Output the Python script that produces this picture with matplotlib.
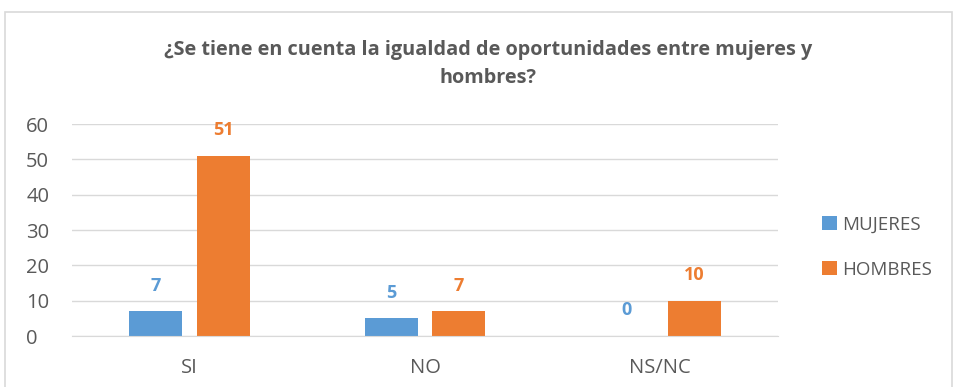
import numpy as np
import matplotlib.pyplot as plt
from matplotlib.patches import Rectangle

categorias = ['SI', 'NO', 'NS/NC']
mujeres = [7, 5, 0]
hombres = [51, 7, 10]

AZUL = '#5B9BD5'
NARANJA = '#ED7D31'
GRIS = '#595959'

plt.rcParams['font.family'] = ['Open Sans', 'DejaVu Sans']

fig = plt.figure(figsize=(9.55, 3.87), dpi=100)
W, H = 955, 387
ax = fig.add_axes([72 / W, 1 - 336 / H, (778 - 72) / W, (336 - 124) / H])

x = np.arange(len(categorias))
ancho = 0.225
b1 = ax.bar(x - 0.144, mujeres, ancho, color=AZUL, label='MUJERES')
b2 = ax.bar(x + 0.144, hombres, ancho, color=NARANJA, label='HOMBRES')

# etiquetas de valor encima de cada barra
for barras, col in ((b1, AZUL), (b2, NARANJA)):
    for r in barras:
        ax.annotate(f'{int(r.get_height())}',
                    (r.get_x() + r.get_width() / 2, r.get_height()),
                    xytext=(0, 12), textcoords='offset points',
                    ha='center', va='bottom', color=col,
                    fontsize=13, fontweight='bold')

ax.set_xlim(-0.5, 2.5)
ax.set_ylim(0, 60)
ax.set_yticks(range(0, 61, 10))
ax.set_xticks(x)
ax.set_xticklabels(categorias)
ax.yaxis.grid(True, color='#D9D9D9', linewidth=1)
ax.set_axisbelow(True)
for s in ('top', 'right', 'left'):
    ax.spines[s].set_visible(False)
ax.spines['bottom'].set_color('#D9D9D9')
ax.tick_params(axis='both', length=0, labelsize=14.5, colors=GRIS)
ax.tick_params(axis='x', pad=16)
ax.tick_params(axis='y', pad=33)
for t in ax.get_yticklabels():
    t.set_horizontalalignment('left')

fig.text(488 / W, 1 - 64 / H,
         '¿Se tiene en cuenta la igualdad de oportunidades entre mujeres y\nhombres?',
         ha='center', va='center', fontsize=14.3, fontweight='bold',
         color=GRIS, linespacing=1.55)

leg = fig.legend(loc='center left', bbox_to_anchor=(805 / W, 1 - 247 / H),
                 frameon=False, fontsize=13.5, labelspacing=1.45,
                 handlelength=0.8, handleheight=0.8, handletextpad=0.3)
for t in leg.get_texts():
    t.set_color(GRIS)

# marco gris del gráfico
fig.patches.append(Rectangle((5 / W, -0.05), 947 / W, 1.05 - 12 / H,
                             transform=fig.transFigure, fill=False,
                             edgecolor='#D9D9D9', linewidth=1.2))

fig.savefig('out.png', dpi=100, facecolor='white')
